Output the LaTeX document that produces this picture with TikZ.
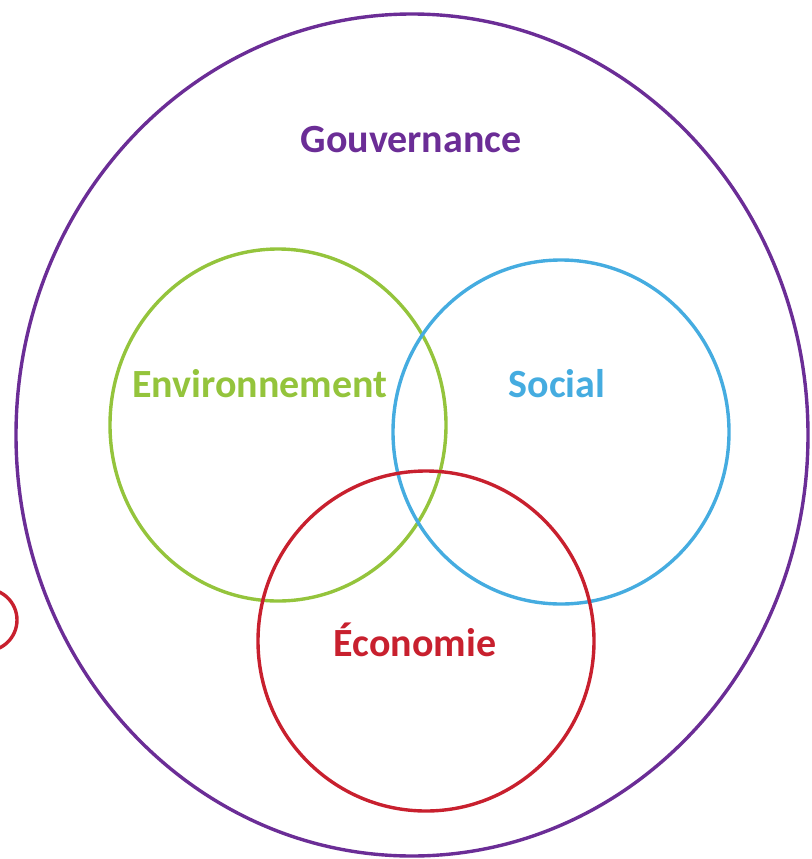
\documentclass[tikz,border=0pt]{standalone}
\usepackage{fontspec}
\setmainfont{Carlito}
\definecolor{gpurple}{HTML}{6B2D96}
\definecolor{ggreen}{HTML}{94C43C}
\definecolor{gblue}{HTML}{45ACE0}
\definecolor{gred}{HTML}{C8202E}
\begin{document}
\begin{tikzpicture}[x=1pt,y=-1pt,
  ring/.style={line width=3.4pt},
  lbl/.style={font=\bfseries\fontsize{40}{46}\selectfont, inner sep=0pt}]
\useasboundingbox (0,0) rectangle (811,859);
\clip (0,0) rectangle (811,859);
\draw[ring,gpurple] (412,435) ellipse [x radius=396, y radius=421];
\draw[ring,ggreen] (278,425) ellipse [x radius=168, y radius=176];
\draw[ring,gblue] (561,432) ellipse [x radius=168, y radius=172];
\draw[ring,gred] (426,641) ellipse [x radius=168, y radius=170];
\draw[ring,gred] (-14,620) circle [radius=31];
\node[lbl,text=gpurple] (gov) at (411,140) {Gouvernance};
\node[lbl,text=ggreen] (env) at (260,384) {Environnement};
\node[lbl,text=gblue] (soc) at (557,384) {Social};
\node[lbl,text=gred] (eco) at (415,640) {Économie};
\end{tikzpicture}
\end{document}
